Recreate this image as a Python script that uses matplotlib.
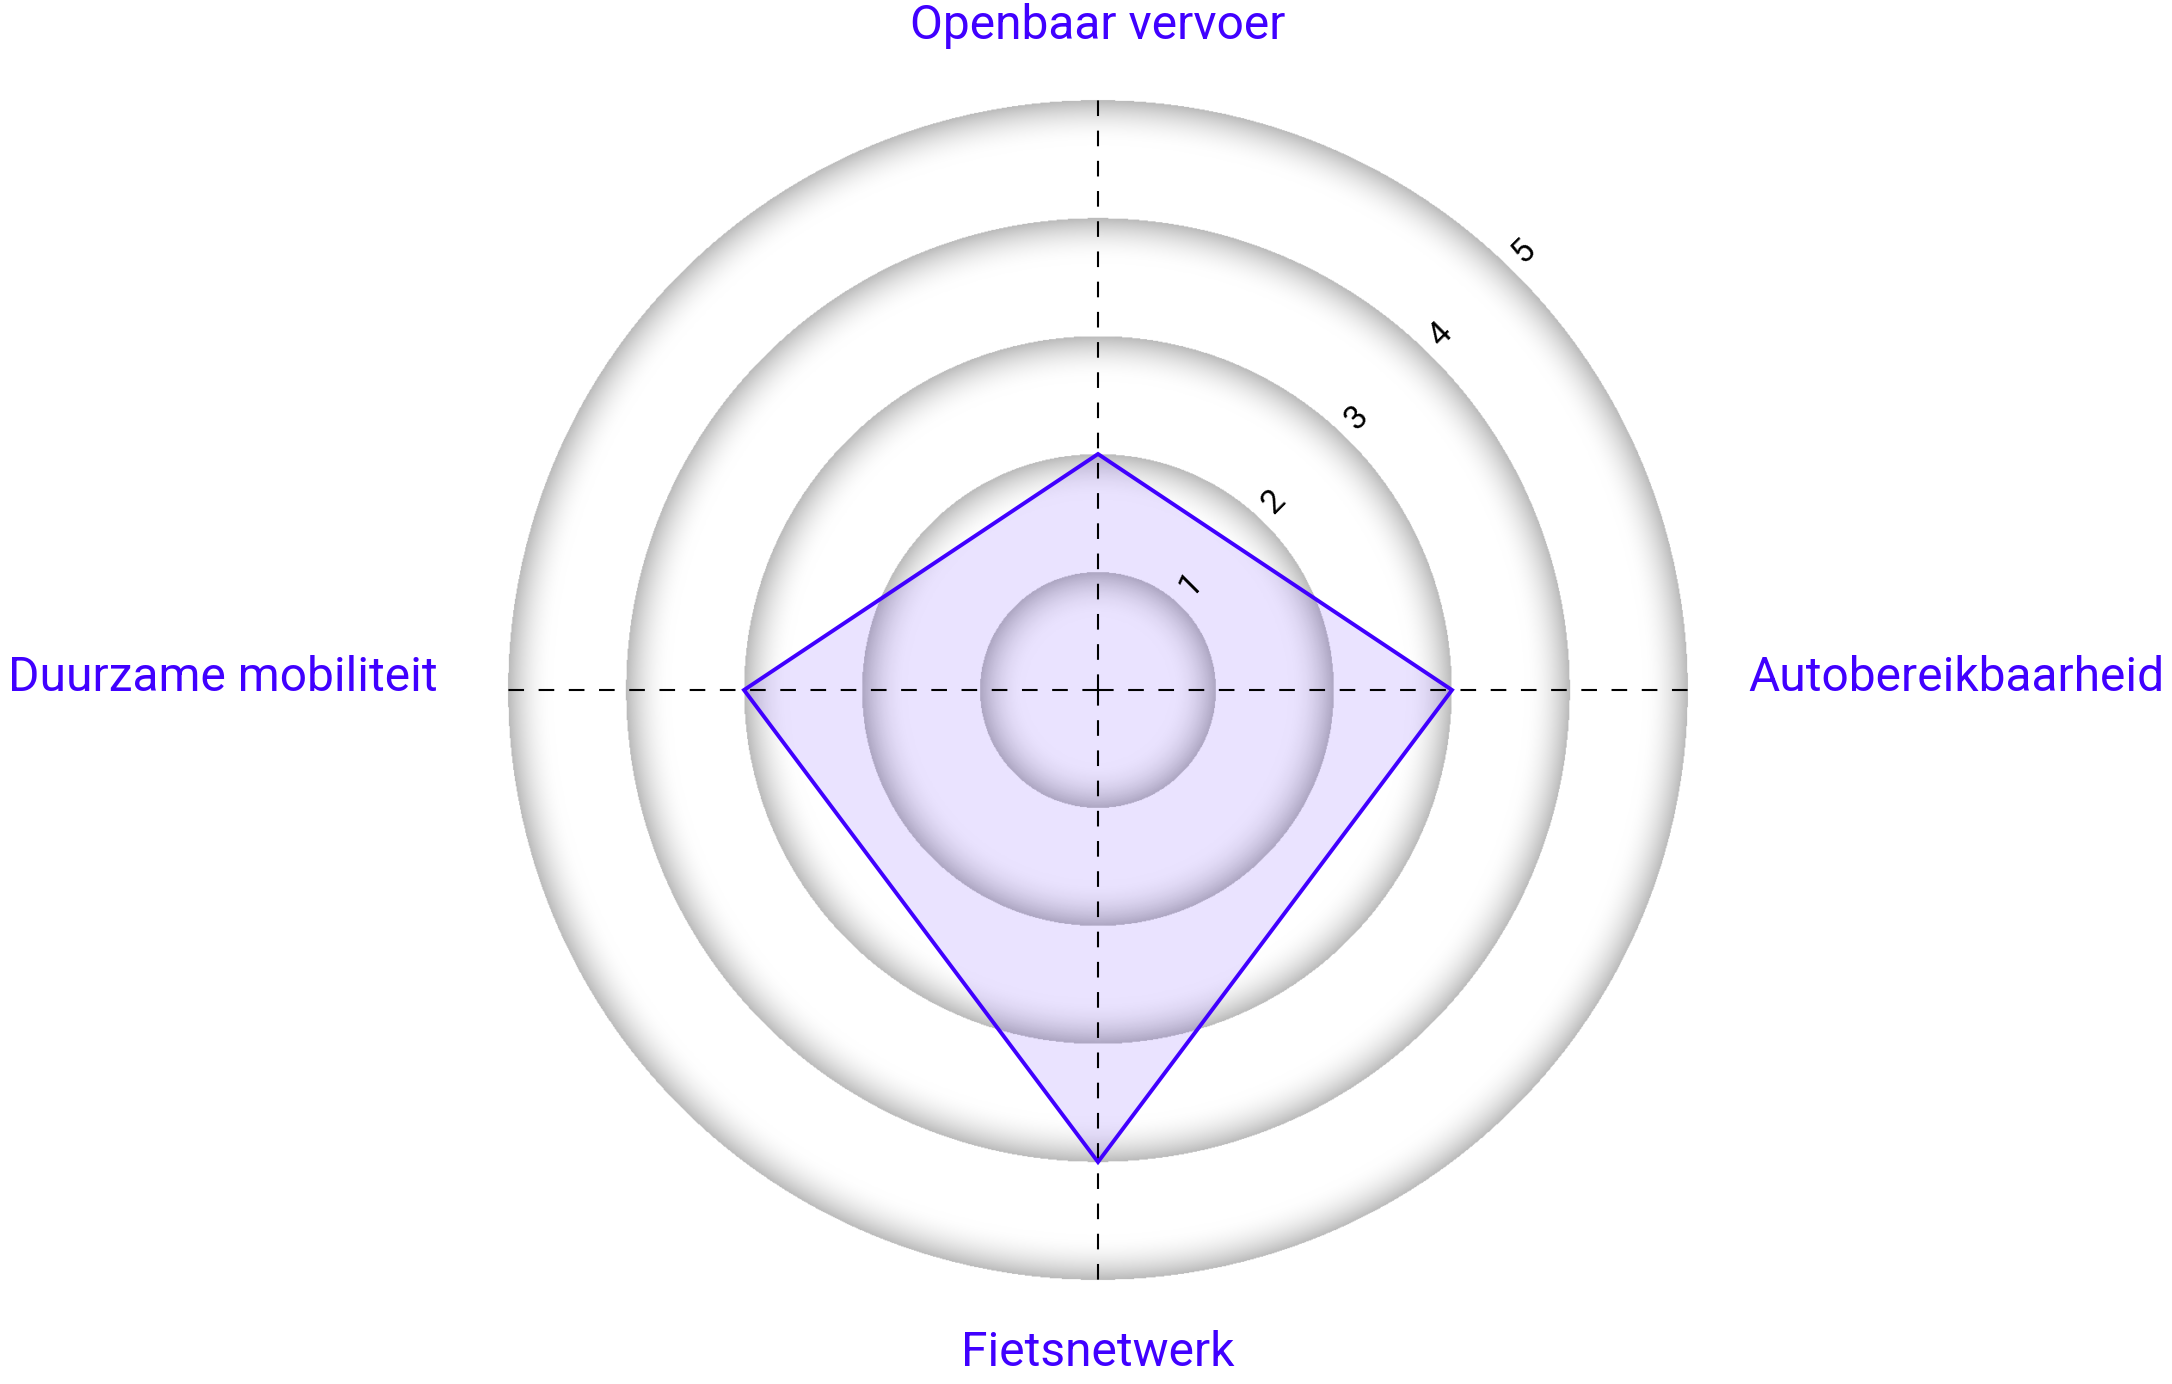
import matplotlib

matplotlib.use("Agg")
import matplotlib.pyplot as plt
import numpy as np
from matplotlib.patches import Polygon

CATEGORIES = ["Openbaar vervoer", "Autobereikbaarheid", "Fietsnetwerk", "Duurzame mobiliteit"]
ANGLES_DEG = [90, 0, -90, 180]
VALUES = [2, 3, 4, 3]
RINGS = [1, 2, 3, 4, 5]

ACCENT = "#4000ff"
W, H, DPI = 2172, 1384, 100
UNIT = 118.0
CX, CY = 1098, 690

fig = plt.figure(figsize=(W / DPI, H / DPI), dpi=DPI)
ax = fig.add_axes([0, 0, 1, 1])
ax.set_xlim(-CX / UNIT, (W - CX) / UNIT)
ax.set_ylim(-(H - CY) / UNIT, CY / UNIT)
ax.set_aspect("equal")
ax.axis("off")

# ring shading: grey at each circle edge fading to white inwards
rmax = max(RINGS)
xs = np.linspace(-rmax - 0.1, rmax + 0.1, 1400)
gx, gy = np.meshgrid(xs, xs)
d = np.hypot(gx, gy)
edge = np.ceil(np.maximum(d, 1e-6))
t = edge - d
shade = 1 - 0.27 * (1 - np.clip(t / 0.38, 0, 1)) ** 2.0
shade[d > rmax] = 1.0
img = np.dstack([shade, shade, shade, np.where(d > rmax + 0.01, 0.0, 1.0)])
ax.imshow(img, extent=(xs[0], xs[-1], xs[0], xs[-1]), origin="lower",
          interpolation="bilinear", zorder=1)

# axis lines
ang = np.deg2rad(ANGLES_DEG)
for a in ang:
    ax.plot([0, rmax * np.cos(a)], [0, rmax * np.sin(a)], color="black",
            lw=1.5, ls=(0, (7.5, 7)), zorder=3)

# data polygon
px = np.array(VALUES) * np.cos(ang)
py = np.array(VALUES) * np.sin(ang)
pts = np.column_stack([px, py])
ax.add_patch(Polygon(pts, closed=True, facecolor=ACCENT, alpha=0.11,
                     edgecolor="none", zorder=2))
ax.add_patch(Polygon(pts, closed=True, facecolor="none", edgecolor=ACCENT,
                     lw=2.8, joinstyle="miter", zorder=4))

# ring labels along the 45 degree diagonal
diag = np.deg2rad(45)
for r in RINGS:
    rr = r + 0.18
    ax.text(rr * np.cos(diag), rr * np.sin(diag), str(r), rotation=45,
            rotation_mode="anchor", ha="center", va="baseline",
            fontsize=24, fontfamily="Roboto", color="black", zorder=5)

# category labels
lab_font = dict(fontsize=34.5, fontfamily="Roboto", color=ACCENT)
ax.text(0, 5.63, CATEGORIES[0], ha="center", va="center", **lab_font)
ax.text(5.51, 0.1, CATEGORIES[1], ha="left", va="center", **lab_font)
ax.text(0, -5.62, CATEGORIES[2], ha="center", va="center", **lab_font)
ax.text(-5.6, 0.1, CATEGORIES[3], ha="right", va="center", **lab_font)

fig.savefig("out.png", dpi=DPI, facecolor="white")
